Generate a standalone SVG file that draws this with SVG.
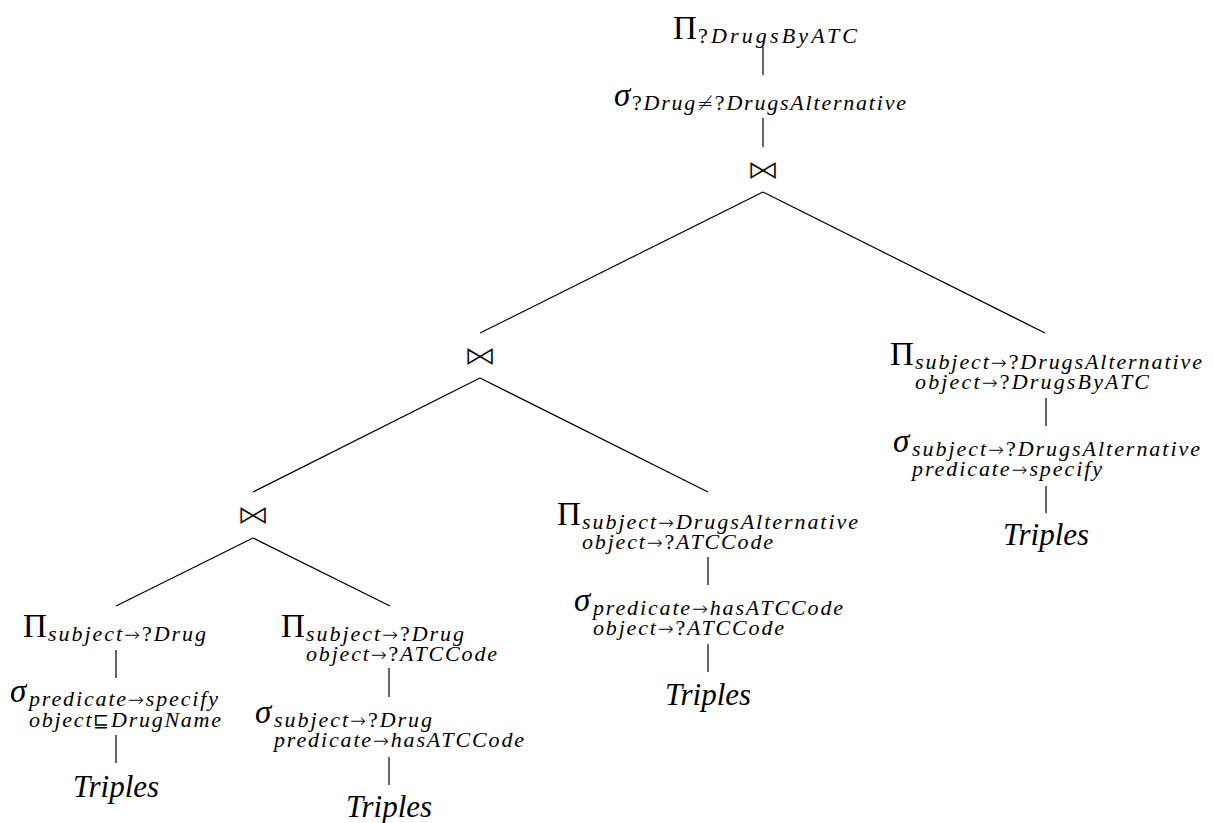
<svg xmlns="http://www.w3.org/2000/svg" width="1214" height="823" viewBox="0 0 1214 823">
  <style>
    .edge { stroke: #000; stroke-width: 1.2; fill: none; }
    .node { font-family: "Liberation Serif", "DejaVu Serif", serif; fill: #000; }
    .op { font-size: 33px; font-style: normal; }
    .sig { font-size: 33px; font-style: italic; }
    .sub { font-size: 22px; font-style: italic; }
    .rm { font-style: normal; }
    .ar { font-family: "DejaVu Sans", sans-serif; font-style: normal; font-weight: 200; font-size: 19px; }
    .join { font-family: "DejaVu Sans", sans-serif; font-size: 30px; fill: #000; stroke: #fff; stroke-width: 0.9px; text-anchor: middle; dominant-baseline: central; }
    .leaf { font-family: "Liberation Serif", serif; font-style: italic; font-size: 31px; fill: #000; text-anchor: middle; }
  </style>
  <rect width="1214" height="823" fill="#fff"/>

  <!-- tree edges -->
  <g id="connectors">
    <line class="edge" x1="763" y1="47" x2="763" y2="75"/>
    <line class="edge" x1="763" y1="118" x2="763" y2="147"/>
    <line class="edge" x1="763" y1="192" x2="480" y2="333"/>
    <line class="edge" x1="763" y1="192" x2="1045" y2="333"/>
    <line class="edge" x1="480" y1="378" x2="253" y2="492"/>
    <line class="edge" x1="480" y1="378" x2="708" y2="492"/>
    <line class="edge" x1="253" y1="538" x2="116" y2="606"/>
    <line class="edge" x1="253" y1="538" x2="390" y2="606"/>
    <line class="edge" x1="1046" y1="398" x2="1046" y2="426"/>
    <line class="edge" x1="1046" y1="486" x2="1046" y2="513"/>
    <line class="edge" x1="708" y1="557" x2="708" y2="585"/>
    <line class="edge" x1="708" y1="644" x2="708" y2="672"/>
    <line class="edge" x1="116" y1="650" x2="116" y2="678"/>
    <line class="edge" x1="116" y1="735" x2="116" y2="763"/>
    <line class="edge" x1="389" y1="668" x2="389" y2="697"/>
    <line class="edge" x1="389" y1="757" x2="389" y2="785"/>
  </g>

  <!-- root projection -->
  <g id="proj-root">
    <text class="node"><tspan class="op" x="673" y="39">Π</tspan><tspan class="sub" x="698" y="43" textLength="159"><tspan class="rm">?</tspan>DrugsByATC</tspan></text>
  </g>

  <!-- filter on distinct drugs -->
  <g id="select-root">
    <text class="node"><tspan class="sig" x="614" y="106">σ</tspan><tspan class="sub" x="632" y="110" textLength="274"><tspan class="rm">?</tspan>Drug<tspan class="ar">≠</tspan><tspan class="rm">?</tspan>DrugsAlternative</tspan></text>
  </g>

  <g id="join-top"><text class="join" x="763" y="170" transform="translate(763 170) scale(1.12 0.9) translate(-763 -170)">⋈</text></g>
  <g id="join-mid"><text class="join" x="480" y="356" transform="translate(480 356) scale(1.12 0.9) translate(-480 -356)">⋈</text></g>
  <g id="join-low"><text class="join" x="253" y="515" transform="translate(253 515) scale(1.12 0.9) translate(-253 -515)">⋈</text></g>

  <!-- right branch -->
  <g id="proj-right">
    <text class="node"><tspan class="op" x="890" y="365">Π</tspan><tspan class="sub" x="915" y="369" textLength="287">subject<tspan class="ar">→</tspan><tspan class="rm">?</tspan>DrugsAlternative</tspan><tspan class="sub" x="915" y="389" textLength="234">object<tspan class="ar">→</tspan><tspan class="rm">?</tspan>DrugsByATC</tspan></text>
  </g>
  <g id="select-right">
    <text class="node"><tspan class="sig" x="893" y="452">σ</tspan><tspan class="sub" x="912" y="456" textLength="288">subject<tspan class="ar">→</tspan><tspan class="rm">?</tspan>DrugsAlternative</tspan><tspan class="sub" x="912" y="476" textLength="190">predicate<tspan class="ar">→</tspan>specify</tspan></text>
  </g>
  <g id="triples-right"><text class="leaf" x="1046" y="545">Triples</text></g>

  <!-- middle branch -->
  <g id="proj-mid">
    <text class="node"><tspan class="op" x="557" y="525">Π</tspan><tspan class="sub" x="582" y="529" textLength="276">subject<tspan class="ar">→</tspan>DrugsAlternative</tspan><tspan class="sub" x="582" y="549" textLength="191">object<tspan class="ar">→</tspan><tspan class="rm">?</tspan>ATCCode</tspan></text>
  </g>
  <g id="select-mid">
    <text class="node"><tspan class="sig" x="574" y="611">σ</tspan><tspan class="sub" x="593" y="615" textLength="250">predicate<tspan class="ar">→</tspan>hasATCCode</tspan><tspan class="sub" x="593" y="635" textLength="191">object<tspan class="ar">→</tspan><tspan class="rm">?</tspan>ATCCode</tspan></text>
  </g>
  <g id="triples-mid"><text class="leaf" x="708" y="705">Triples</text></g>

  <!-- left-most branch -->
  <g id="proj-drug">
    <text class="node"><tspan class="op" x="23" y="637">Π</tspan><tspan class="sub" x="48" y="641" textLength="158">subject<tspan class="ar">→</tspan><tspan class="rm">?</tspan>Drug</tspan></text>
  </g>
  <g id="select-drug">
    <text class="node"><tspan class="sig" x="10" y="702">σ</tspan><tspan class="sub" x="29" y="706" textLength="189">predicate<tspan class="ar">→</tspan>specify</tspan><tspan class="sub" x="29" y="727" textLength="192">object<tspan class="ar">⊑</tspan>DrugName</tspan></text>
  </g>
  <g id="triples-drug"><text class="leaf" x="116" y="797">Triples</text></g>

  <!-- second branch -->
  <g id="proj-atc">
    <text class="node"><tspan class="op" x="281" y="637">Π</tspan><tspan class="sub" x="306" y="641" textLength="158">subject<tspan class="ar">→</tspan><tspan class="rm">?</tspan>Drug</tspan><tspan class="sub" x="306" y="661" textLength="191">object<tspan class="ar">→</tspan><tspan class="rm">?</tspan>ATCCode</tspan></text>
  </g>
  <g id="select-atc">
    <text class="node"><tspan class="sig" x="255" y="723">σ</tspan><tspan class="sub" x="274" y="727" textLength="158">subject<tspan class="ar">→</tspan><tspan class="rm">?</tspan>Drug</tspan><tspan class="sub" x="274" y="747" textLength="250">predicate<tspan class="ar">→</tspan>hasATCCode</tspan></text>
  </g>
  <g id="triples-atc"><text class="leaf" x="389" y="817">Triples</text></g>
</svg>
